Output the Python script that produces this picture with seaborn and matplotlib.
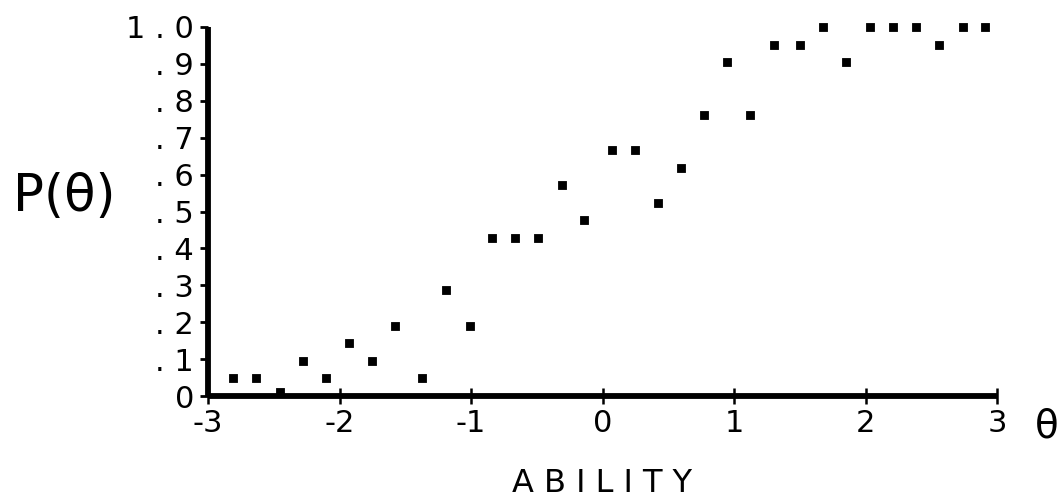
import numpy as np
import pandas as pd
import matplotlib
matplotlib.use('Agg')
import matplotlib.pyplot as plt
import seaborn as sns

# ── Data ────────────────────────────────────────────────────────────────────
ability = [-2.81, -2.635, -2.45, -2.28, -2.10, -1.93, -1.75, -1.575, -1.37,
           -1.19, -1.01, -0.84, -0.665, -0.49, -0.31, -0.14, 0.07, 0.245,
           0.425, 0.60, 0.77, 0.95, 1.12, 1.30, 1.505, 1.68, 1.855, 2.03,
           2.21, 2.385, 2.56, 2.74, 2.91]
p_theta = [0.048, 0.048, 0.01, 0.095, 0.048, 0.143, 0.095, 0.190, 0.048,
           0.286, 0.190, 0.429, 0.429, 0.429, 0.571, 0.476, 0.667, 0.667,
           0.524, 0.619, 0.762, 0.905, 0.762, 0.952, 0.952, 1.0, 0.905, 1.0,
           1.0, 1.0, 0.952, 1.0, 1.0]

x_ticks = [-3, -2, -1, 0, 1, 2, 3]
x_labels = ['-3', '-2', '-1', '0', '1', '2', '3']
y_ticks = [0, 0.1, 0.2, 0.3, 0.4, 0.5, 0.6, 0.7, 0.8, 0.9, 1.0]
y_labels = ['0', '. 1', '. 2', '. 3', '. 4', '. 5', '. 6', '. 7', '. 8', '. 9', '1 . 0']

df = pd.DataFrame({'ability': ability, 'p': p_theta})

sns.set_style('white')
plt.rcParams['font.family'] = ['DejaVu Sans']
plt.rcParams['text.color'] = 'black'
plt.rcParams['axes.labelcolor'] = 'black'

fig = plt.figure(figsize=(10.57, 5.0), dpi=100)
ax = fig.add_axes([0.1968, 0.208, 0.7465, 0.738])

sns.scatterplot(data=df, x='ability', y='p', ax=ax, marker='s', s=38,
                color='black', edgecolor='black', linewidth=0.6,
                clip_on=False, zorder=3)

ax.set_xlim(-3, 3)
ax.set_ylim(0, 1.0)

for side in ['top', 'right']:
    ax.spines[side].set_visible(False)
for side in ['left', 'bottom']:
    ax.spines[side].set_linewidth(4.2)
    ax.spines[side].set_color('black')
    ax.spines[side].set_capstyle('butt')

ax.set_xticks(x_ticks)
ax.set_xticklabels(x_labels)
ax.set_yticks(y_ticks)
ax.set_yticklabels(y_labels)

ax.tick_params(axis='x', bottom=True, direction='inout', length=12, width=1.8,
               pad=3, labelsize=22, colors='black')
ax.tick_params(axis='y', left=True, direction='out', length=6, width=2.0,
               pad=4, labelsize=22, colors='black')

ax.set_ylabel('P(θ)', rotation=0, fontsize=37, ha='left', va='center',
              color='black')
ax.yaxis.set_label_coords(-0.2475, 0.539)
ax.set_xlabel('A B I L I T Y', fontsize=23, va='center', color='black')
ax.xaxis.set_label_coords(0.5, -0.236)

ax.text(1.048, -0.084, 'θ', transform=ax.transAxes, fontsize=28,
        ha='left', va='center', clip_on=False, color='black')

fig.savefig('out.png', dpi=100)
